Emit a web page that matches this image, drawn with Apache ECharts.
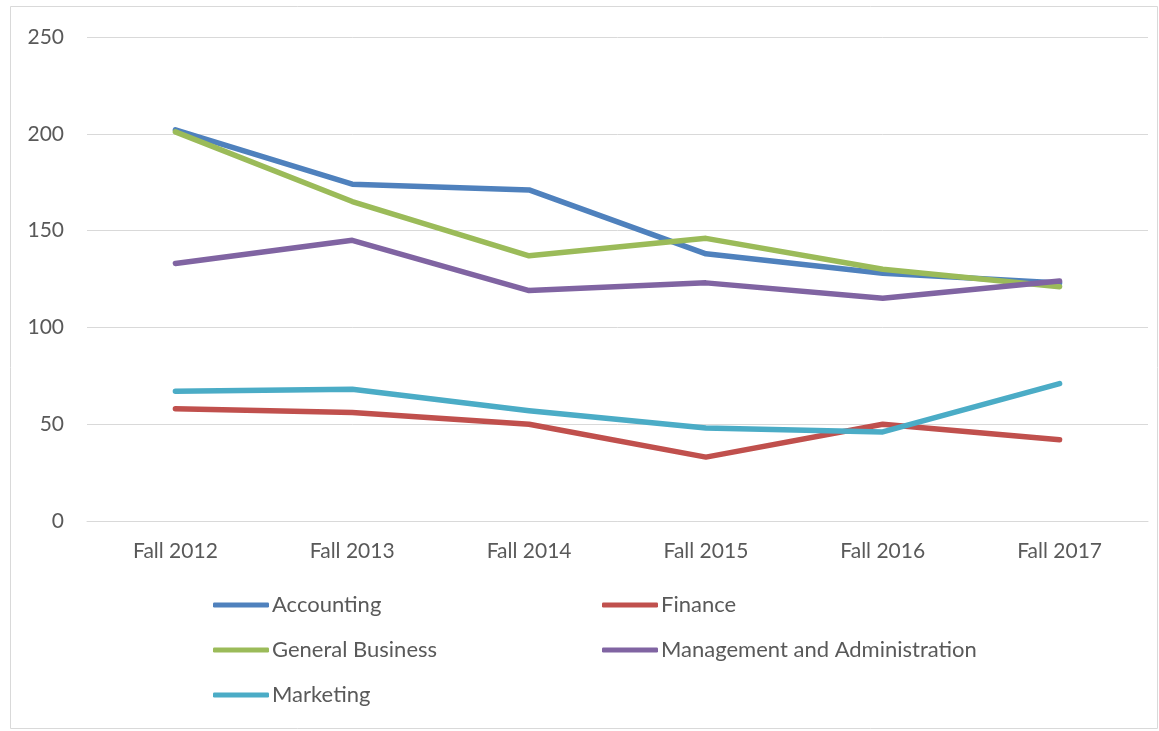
<!DOCTYPE html>
<html>
<head>
<meta charset="utf-8">
<script src="https://cdn.jsdelivr.net/npm/echarts@6/dist/echarts.min.js"></script>
<style>
  html, body { margin: 0; padding: 0; background: #fff; }
  #chart { width: 1159px; height: 731px; }
</style>
</head>
<body>
<div id="chart"></div>
<script>
const categories = ["Fall 2012", "Fall 2013", "Fall 2014", "Fall 2015", "Fall 2016", "Fall 2017"];
const accounting = [202, 174, 171, 138, 128, 123];
const finance = [58, 56, 50, 33, 50, 42];
const generalBusiness = [201, 165, 137, 146, 130, 121];
const management = [133, 145, 119, 123, 115, 124];
const marketing = [67, 68, 57, 48, 46, 71];

const textColor = "#595959";
const font = "Lato, 'Open Sans', sans-serif";

function lineSeries(name, data, color) {
  return {
    name: name,
    type: "line",
    data: data,
    symbol: "none",
    lineStyle: { width: 5.5, color: color, cap: "round", join: "round" },
    itemStyle: { color: color },
  };
}

const legendText = { fontSize: 22, color: textColor, fontFamily: font, lineHeight: 22, padding: [0, 0, 0, -2] };

const chart = echarts.init(document.getElementById("chart"));
chart.setOption({
  animation: false,
  graphic: [{
    type: "rect",
    shape: { x: 10.5, y: 6.5, width: 1147, height: 722 },
    style: { fill: "none", stroke: "#d9d9d9", lineWidth: 1 },
    silent: true,
  }],
  grid: { left: 87, right: 11, top: 37, bottom: 210 },
  legend: [
    {
      orient: "vertical", left: 213, top: 594, padding: 0,
      itemWidth: 56, itemHeight: 5, itemGap: 23,
      icon: "roundRect",
      textStyle: legendText,
      data: ["Accounting", "General Business", "Marketing"],
    },
    {
      orient: "vertical", left: 602, top: 594, padding: 0,
      itemWidth: 56, itemHeight: 5, itemGap: 23,
      icon: "roundRect",
      textStyle: legendText,
      data: ["Finance", "Management and Administration"],
    },
  ],
  xAxis: {
    type: "category",
    data: categories,
    boundaryGap: true,
    axisLine: { show: true, lineStyle: { color: "#d9d9d9", width: 1 } },
    axisTick: { show: false },
    axisLabel: { fontSize: 21, color: textColor, fontFamily: font, margin: 20 },
  },
  yAxis: {
    type: "value",
    min: 0, max: 250, interval: 50,
    axisLine: { show: false },
    axisTick: { show: false },
    axisLabel: { fontSize: 21, color: textColor, fontFamily: font, margin: 23 },
    splitLine: { lineStyle: { color: "#d9d9d9", width: 1 } },
  },
  series: [
    lineSeries("Accounting", accounting, "#4f81bd"),
    lineSeries("Finance", finance, "#c0504d"),
    lineSeries("General Business", generalBusiness, "#9bbb59"),
    lineSeries("Management and Administration", management, "#8064a2"),
    lineSeries("Marketing", marketing, "#4bacc6"),
  ],
});
</script>
</body>
</html>
